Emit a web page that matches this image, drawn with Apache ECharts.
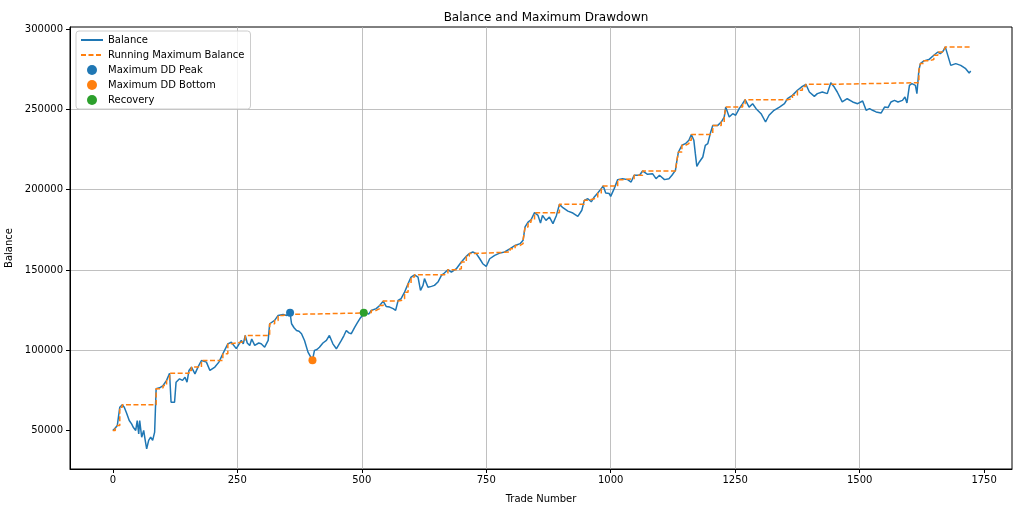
<!DOCTYPE html>
<html>
<head>
<meta charset="utf-8">
<script src="https://cdn.jsdelivr.net/npm/echarts@6/dist/echarts.min.js"></script>
<style>
html,body{margin:0;padding:0;background:#fff;}
#chart{width:1024px;height:512px;}
</style>
</head>
<body>
<div id="chart"></div>
<script>
// Balance curve: [trade number, balance]
const balance = [
[0,50000],[5,51500],[9,53100],[14,64500],[19,66000],[23,64500],[27,61400],[33,56200],[38,54000],[41,52000],
[46,50000],[49,56200],[52,47900],[54,56200],[58,45800],[62,50000],[65,44000],[68,38600],[72,43800],[76,45800],
[80,43800],[84,49000],[86,50000],[87,76000],[94,76600],[101,78000],[108,81200],[114,85700],[116,85000],[117,67600],
[124,67600],[127,80000],[129,81200],[134,82200],[140,81200],[145,83200],[149,80100],[153,87400],[158,89500],[165,85300],
[171,89500],[178,93600],[188,92600],[195,87400],[205,89500],[213,92600],[221,97800],[231,104000],[238,105000],[248,101000],
[258,106100],[262,104000],[266,109200],[270,104500],[275,103000],[279,107000],[282,106100],[285,103000],[288,101900],[293,104500],[298,104000],
[302,105000],[305,101900],[312,106100],[315,116500],
[325,118600],[332,121700],[342,122300],[349,121700],[356,123300],[359,116500],[364,114000],[369,112300],[374,111800],[379,110300],[385,106100],[392,98800],
[401,93800],[405,99900],[410,100500],[415,101900],[422,104500],[429,106100],[435,109200],[442,104000],[449,100900],[454,103500],[459,106100],[464,109000],[469,112300],[474,110800],[479,110300],
[486,114400],[491,117000],[496,119600],[502,122000],[504,123300],[509,123100],[514,122500],[519,124800],[529,125900],[536,127900],[543,130600],[549,127300],
[556,126900],[563,125900],[568,124800],[573,131000],[579,132100],[586,136200],[593,141400],[599,145600],[606,147000],[613,145600],
[618,137300],[623,140400],[626,144600],[633,139300],[640,139800],[646,140400],[653,142500],[660,146600],[666,148100],[673,150200],
[680,148700],[690,150800],[700,155000],[710,158500],[716,160200],[723,161200],[730,160200],[737,157000],[743,153900],[750,152200],
[757,157000],[767,159100],[777,160500],[787,161200],[798,163300],[808,165300],[818,166400],[824,168500],[828,176800],[834,179800],
[840,181300],[847,185700],[854,184000],[859,179200],[863,184000],[870,180900],[877,183000],[884,178900],[891,184000],[897,190900],
[904,188800],[914,186700],[924,185500],[934,183400],[942,187200],[947,193400],[954,194400],[961,192500],[967,195500],[974,198000],
[981,200700],[985,202300],[990,198000],[997,197600],[1000,195900],[1007,200700],[1014,206300],[1024,206900],[1034,206300],[1041,204800],
[1047,209000],[1058,209000],[1064,211700],[1074,209600],[1084,210000],[1091,206900],[1098,209000],[1108,206300],[1117,206900],[1123,209000],
[1130,212100],[1133,218300],[1136,223500],[1143,227700],[1150,228700],[1157,230800],[1162,234400],[1167,230800],[1170,222500],[1173,214600],
[1178,217300],[1185,220400],[1190,227700],[1195,228700],[1200,235000],[1205,240100],[1215,240100],[1222,242200],[1228,245300],[1231,251500],
[1238,245300],[1245,247400],[1251,246400],[1258,250500],[1265,253600],[1270,256100],[1278,251500],[1285,253600],[1292,250500],[1302,247400],
[1311,242200],[1318,246400],[1328,249500],[1339,251500],[1349,253600],[1355,256700],[1365,258800],[1375,262000],[1385,264400],[1392,265700],
[1399,260900],[1409,258200],[1415,259900],[1425,260900],[1435,259900],[1442,266700],[1449,264000],[1455,260900],[1465,254700],[1475,256700],
[1486,254700],[1496,253600],[1506,255300],[1513,249500],[1520,250500],[1526,249500],[1533,248500],[1543,247800],[1550,251500],[1557,251200],
[1563,254700],[1570,255700],[1577,254700],[1586,255700],[1591,257800],[1595,254100],[1600,265000],[1605,266100],[1612,265000],[1615,259900],
[1619,274500],[1622,278600],[1629,280300],[1639,281100],[1649,283800],[1657,285800],[1662,284800],[1668,286500],[1672,289000],[1679,281700],
[1683,277500],[1693,278600],[1703,277500],[1713,275400],[1720,272700],[1723,274000]
];
// Running maximum balance: [trade number, level] (step changes)
const runningMax = [
[0,50000],[5,51500],[9,53100],[14,64500],[19,66000],[87,76000],[94,76600],[101,78000],[108,81200],[114,85700],
[153,87400],[158,89500],[178,93600],[221,97800],[231,104000],[238,105000],[258,106100],[266,109200],[315,116500],[325,118600],
[332,121700],[342,122300],[356,123300],[519,124800],[529,125900],[536,127900],[543,130600],[573,131000],[579,132100],[586,136200],
[593,141400],[599,145600],[606,147000],[666,148100],[673,150200],[690,150800],[700,155000],[710,158500],[716,160200],[723,161200],
[798,163300],[808,165300],[818,166400],[824,168500],[828,176800],[834,179800],[840,181300],[847,185700],[897,190900],[947,193400],
[954,194400],[967,195500],[974,198000],[981,200700],[985,202300],[1014,206300],[1024,206900],[1047,209000],[1064,211700],[1130,212100],
[1133,218300],[1136,223500],[1143,227700],[1150,228700],[1157,230800],[1162,234400],[1200,235000],[1205,240100],[1222,242200],[1228,245300],
[1231,251500],[1265,253600],[1270,256100],[1355,256700],[1365,258800],[1375,262000],[1385,264400],[1392,265700],[1442,266700],[1619,274500],
[1622,278600],[1629,280300],[1639,281100],[1649,283800],[1657,285800],[1668,286500],[1672,289000],[1723,289000]
];
const ddPeak = [[356,123300]];
const ddBottom = [[401,93800]];
const recovery = [[504,123300]];
const xTicks = [0,250,500,750,1000,1250,1500,1750];
const yTicks = [50000,100000,150000,200000,250000,300000];

const FONT = 'DejaVu Sans';
const chart = echarts.init(document.getElementById('chart'), null, {renderer:'canvas'});
chart.setOption({
  animation:false,
  backgroundColor:'#fff',
  title:{text:'Balance and Maximum Drawdown', left:541, textAlign:'center', top:7,
    textStyle:{fontFamily:FONT, fontSize:12, fontWeight:'normal', color:'#000'}},
  grid:{left:70, right:12, top:27, bottom:43, show:true, borderColor:'#000', borderWidth:1,
    backgroundColor:'transparent', containLabel:false, outerBoundsMode:'none'},
  legend:{
    orient:'vertical', left:76, top:31,
    padding:[4,6,4,4], itemGap:5, itemWidth:22, itemHeight:10,
    backgroundColor:'rgba(255,255,255,0.8)', borderColor:'#cccccc', borderWidth:1, borderRadius:3,
    textStyle:{fontFamily:FONT, fontSize:10, color:'#000'},
    data:[
      {name:'Balance', itemStyle:{opacity:0}},
      {name:'Running Maximum Balance', itemStyle:{opacity:0}},
      {name:'Maximum DD Peak', icon:'circle'},
      {name:'Maximum DD Bottom', icon:'circle'},
      {name:'Recovery', icon:'circle'}
    ]
  },
  xAxis:{
    type:'value', min:-86, max:1806, minInterval:250, maxInterval:250,
    name:'Trade Number', nameLocation:'middle', nameGap:25,
    nameTextStyle:{fontFamily:FONT, fontSize:10, color:'#000'},
    axisLine:{show:true, onZero:false, lineStyle:{color:'#000', width:1}},
    axisTick:{show:true, length:4, customValues:xTicks, lineStyle:{color:'#000'}},
    axisLabel:{fontFamily:FONT, fontSize:10, color:'#000', margin:6,
      formatter:v => xTicks.indexOf(Math.round(v))>=0 && Math.abs(v-Math.round(v))<1e-6 ? String(Math.round(v)) : ''},
    splitLine:{show:true, showMinLine:false, showMaxLine:false, lineStyle:{color:'#b0b0b0', width:0.8}}
  },
  yAxis:{
    type:'value', min:26000, max:301400, minInterval:50000, maxInterval:50000,
    name:'Balance', nameLocation:'middle', nameGap:54,
    nameTextStyle:{fontFamily:FONT, fontSize:10, color:'#000'},
    axisLine:{show:true, onZero:false, lineStyle:{color:'#000', width:1}},
    axisTick:{show:true, length:4, customValues:yTicks, lineStyle:{color:'#000'}},
    axisLabel:{fontFamily:FONT, fontSize:10, color:'#000', margin:7,
      formatter:v => yTicks.indexOf(Math.round(v))>=0 ? String(Math.round(v)) : ''},
    splitLine:{show:true, showMinLine:false, showMaxLine:false, lineStyle:{color:'#b0b0b0', width:0.8}}
  },
  series:[
    {name:'Balance', type:'line', data:balance, symbol:'none', showSymbol:false,
      lineStyle:{color:'#1f77b4', width:1.5}, itemStyle:{color:'#1f77b4'}, z:2},
    {name:'Running Maximum Balance', type:'line', data:runningMax, step:'end', symbol:'none', showSymbol:false,
      lineStyle:{color:'#ff7f0e', width:1.5, type:[5,2.5]}, itemStyle:{color:'#ff7f0e'}, z:3},
    {name:'Maximum DD Peak', type:'scatter', data:ddPeak, symbolSize:8, itemStyle:{color:'#1f77b4', opacity:1}, z:4},
    {name:'Maximum DD Bottom', type:'scatter', data:ddBottom, symbolSize:8, itemStyle:{color:'#ff7f0e', opacity:1}, z:4},
    {name:'Recovery', type:'scatter', data:recovery, symbolSize:8, itemStyle:{color:'#2ca02c', opacity:1}, z:4}
  ]
});
</script>
</body>
</html>
